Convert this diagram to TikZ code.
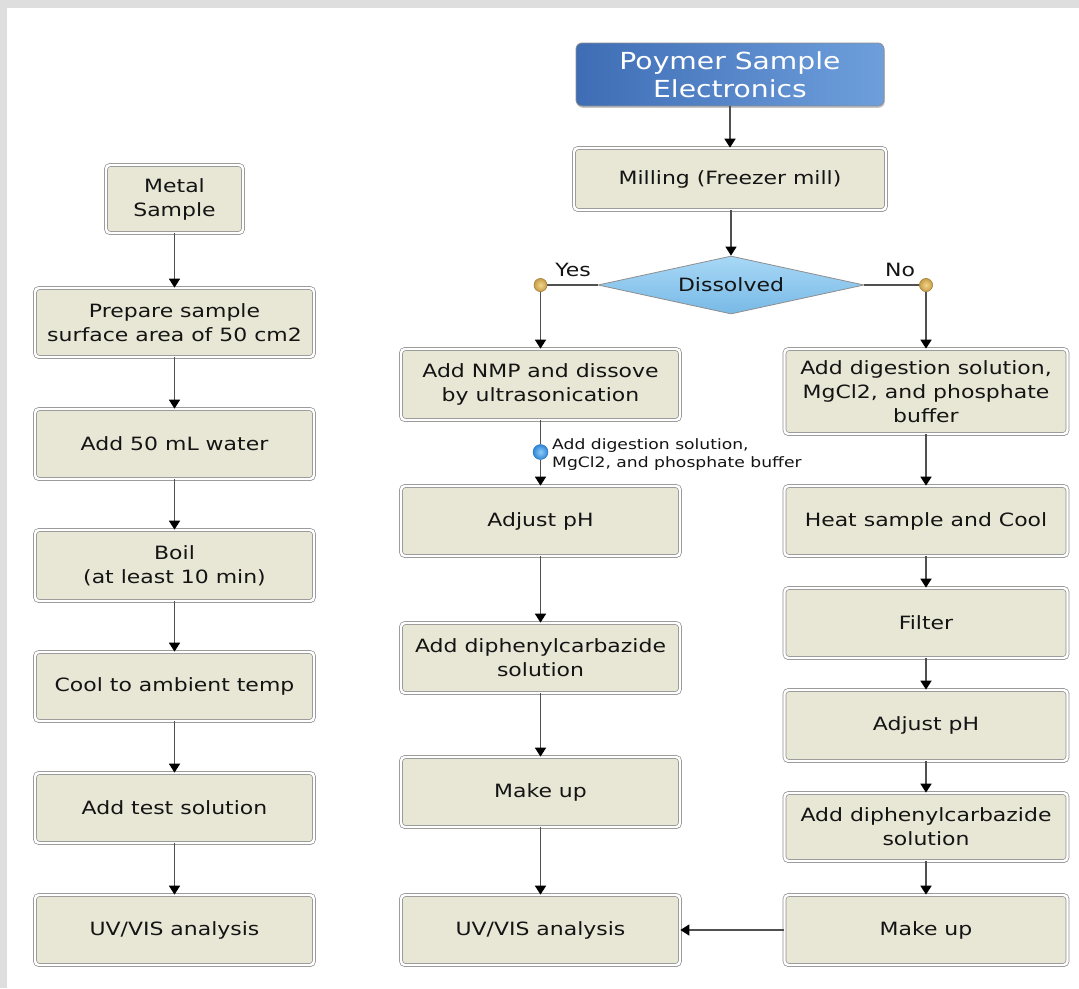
\documentclass[tikz,border=0pt]{standalone}
\usepackage{fontspec}
\setmainfont{DejaVu Sans}[FakeStretch=1.2]
\newfontfamily\dvfam{DejaVu Sans}[FakeStretch=1.2]
\usetikzlibrary{arrows.meta,shapes.geometric,shadows}
\definecolor{bggray}{HTML}{DEDEDE}
\definecolor{boxfill}{HTML}{E8E7D6}
\definecolor{boxline}{HTML}{8E8E8E}
\definecolor{txt}{HTML}{141414}
\definecolor{arrline}{HTML}{505050}
\definecolor{tblueL}{HTML}{3E6DB5}
\definecolor{tblueR}{HTML}{6E9FDC}
\definecolor{diaT}{HTML}{A8D8F6}
\definecolor{diaB}{HTML}{78B9E6}
\definecolor{goldI}{HTML}{F2D58A}
\definecolor{goldO}{HTML}{C89E48}
\definecolor{bdotI}{HTML}{8FCBF6}
\definecolor{bdotO}{HTML}{2E86DA}
\newcommand\bxfont{\dvfam\fontsize{18.3}{24}\selectfont}
\newcommand\smfont{\dvfam\fontsize{14.3}{18}\selectfont}
\newcommand\ttlfont{\fontsize{23.5}{28.5}\selectfont}
\tikzset{
  box/.style={rectangle, rounded corners=4pt, fill=boxfill, draw=boxline,
    line width=0.7pt, double=white, double distance=2.4pt, align=center,
    inner sep=0pt, font=\bxfont, text=txt,
    drop shadow={shadow xshift=0.8pt, shadow yshift=-1.8pt, fill=black, opacity=0.22}},
  lbox/.style={box, minimum width=279pt},
  rbox/.style={box, minimum width=283pt},
  arr/.style={draw=arrline, line width=1.6pt,
    -{Triangle[width=11pt,length=9pt,fill=black,color=black]}},
  ln/.style={draw=arrline, line width=1.6pt},
  dotg/.style={circle, minimum size=13pt, inner sep=0pt, inner color=goldI, outer color=goldO, draw=goldO!80!black, line width=0.4pt},
  dotb/.style={circle, minimum size=15pt, inner sep=0pt, inner color=bdotI, outer color=bdotO, draw=bdotO!80!black, line width=0.4pt},
  lbl/.style={font=\bxfont, text=txt, inner sep=0pt}
}
\begin{document}
\begin{tikzpicture}[x=1pt,y=-1pt]
\fill[bggray] (0,0) rectangle (1079,988);
\fill[white] (7,8) rectangle (1079,988);
\useasboundingbox (0,0) rectangle (1079,988);

% left column
\node[box, minimum width=137pt, minimum height=68pt] (metal) at (174.5,199) {Metal\\Sample};
\node[lbox, minimum height=69pt] (prep) at (174.5,322.5) {Prepare sample\\surface area of 50 cm2};
\node[lbox, minimum height=70pt] (water) at (174.5,444) {Add 50 mL water};
\node[lbox, minimum height=71pt] (boil) at (174.5,565.5) {Boil\\(at least 10 min)};
\node[lbox, minimum height=69pt] (cool) at (174.5,686.5) {Cool to ambient temp};
\node[lbox, minimum height=70pt] (test) at (174.5,808) {Add test solution};
\node[lbox, minimum height=70pt] (uvl) at (174.5,930) {UV/VIS analysis};

\draw[arr] (metal) -- (prep);
\draw[arr] (prep) -- (water);
\draw[arr] (water) -- (boil);
\draw[arr] (boil) -- (cool);
\draw[arr] (cool) -- (test);
\draw[arr] (test) -- (uvl);

% top
\node[rectangle, rounded corners=6pt, left color=tblueL, right color=tblueR,
  draw=boxline, line width=0.8pt, minimum width=308pt, minimum height=63pt,
  align=center, text=white, font=\ttlfont, inner sep=0pt,
  drop shadow={shadow xshift=0.8pt, shadow yshift=-1.8pt, fill=black, opacity=0.22}]
  (title) at (730,74.5) {Poymer Sample\\Electronics};
\node[box, minimum width=312pt, minimum height=62pt] (mill) at (730,179) {Milling (Freezer mill)};
\node[diamond, aspect=4.6, top color=diaT, bottom color=diaB, draw=boxline, line width=0.8pt,
  minimum width=266pt, minimum height=58pt, inner sep=0pt, font=\bxfont, text=txt]
  (dia) at (731,285) {Dissolved};

\draw[arr] (title) -- (title.south |- mill.north);
\draw[arr] (mill.south -| dia.north) -- (dia.north);

\node[dotg] (ydot) at (540.5,285) {};
\node[dotg] (ndot) at (926,285) {};
\node[lbl] (yes) at (573,270) {Yes};
\node[lbl] (no) at (900,270) {No};

% middle column
\node[lbox, minimum height=71pt] (nmp) at (540.5,384.5) {Add NMP and dissove\\by ultrasonication};
\node[lbox, minimum height=70pt] (adj1) at (540.5,521) {Adjust pH};
\node[lbox, minimum height=70pt] (diph1) at (540.5,658) {Add diphenylcarbazide\\solution};
\node[lbox, minimum height=70pt] (mk1) at (540.5,792) {Make up};
\node[lbox, minimum height=70pt] (uvm) at (540.5,930) {UV/VIS analysis};

\node[dotb] (bd) at (540.5,452) {};
\node[anchor=west, align=left, font=\smfont, text=txt, inner sep=0pt] (bdl) at (552,455)
  {Add digestion solution,\\MgCl2, and phosphate buffer};

% right column
\node[rbox, minimum height=85pt] (dig) at (926,391.5) {Add digestion solution,\\MgCl2, and phosphate\\buffer};
\node[rbox, minimum height=70pt] (heat) at (926,521) {Heat sample and Cool};
\node[rbox, minimum height=70pt] (filt) at (926,623) {Filter};
\node[rbox, minimum height=71pt] (adj2) at (926,725.5) {Adjust pH};
\node[rbox, minimum height=68pt] (diph2) at (926,827) {Add diphenylcarbazide\\solution};
\node[rbox, minimum height=70pt] (mk2) at (926,930) {Make up};

% connectors
\draw[ln] (dia.west) -- (ydot);
\draw[ln] (dia.east) -- (ndot);
\node[dotg] at (ydot) {};
\node[dotg] at (ndot) {};
\draw[arr] (ydot.south) -- (nmp.north);
\draw[arr] (ndot.south) -- (dig.north);
\draw[ln] (nmp.south) -- (bd.north);
\draw[arr] (bd.south) -- (adj1.north);
\draw[arr] (adj1) -- (diph1);
\draw[arr] (diph1) -- (mk1);
\draw[arr] (mk1) -- (uvm);
\draw[arr] (dig) -- (heat);
\draw[arr] (heat) -- (filt);
\draw[arr] (filt) -- (adj2);
\draw[arr] (adj2) -- (diph2);
\draw[arr] (diph2) -- (mk2);
\draw[arr] (mk2) -- (uvm);
\end{tikzpicture}
\end{document}
